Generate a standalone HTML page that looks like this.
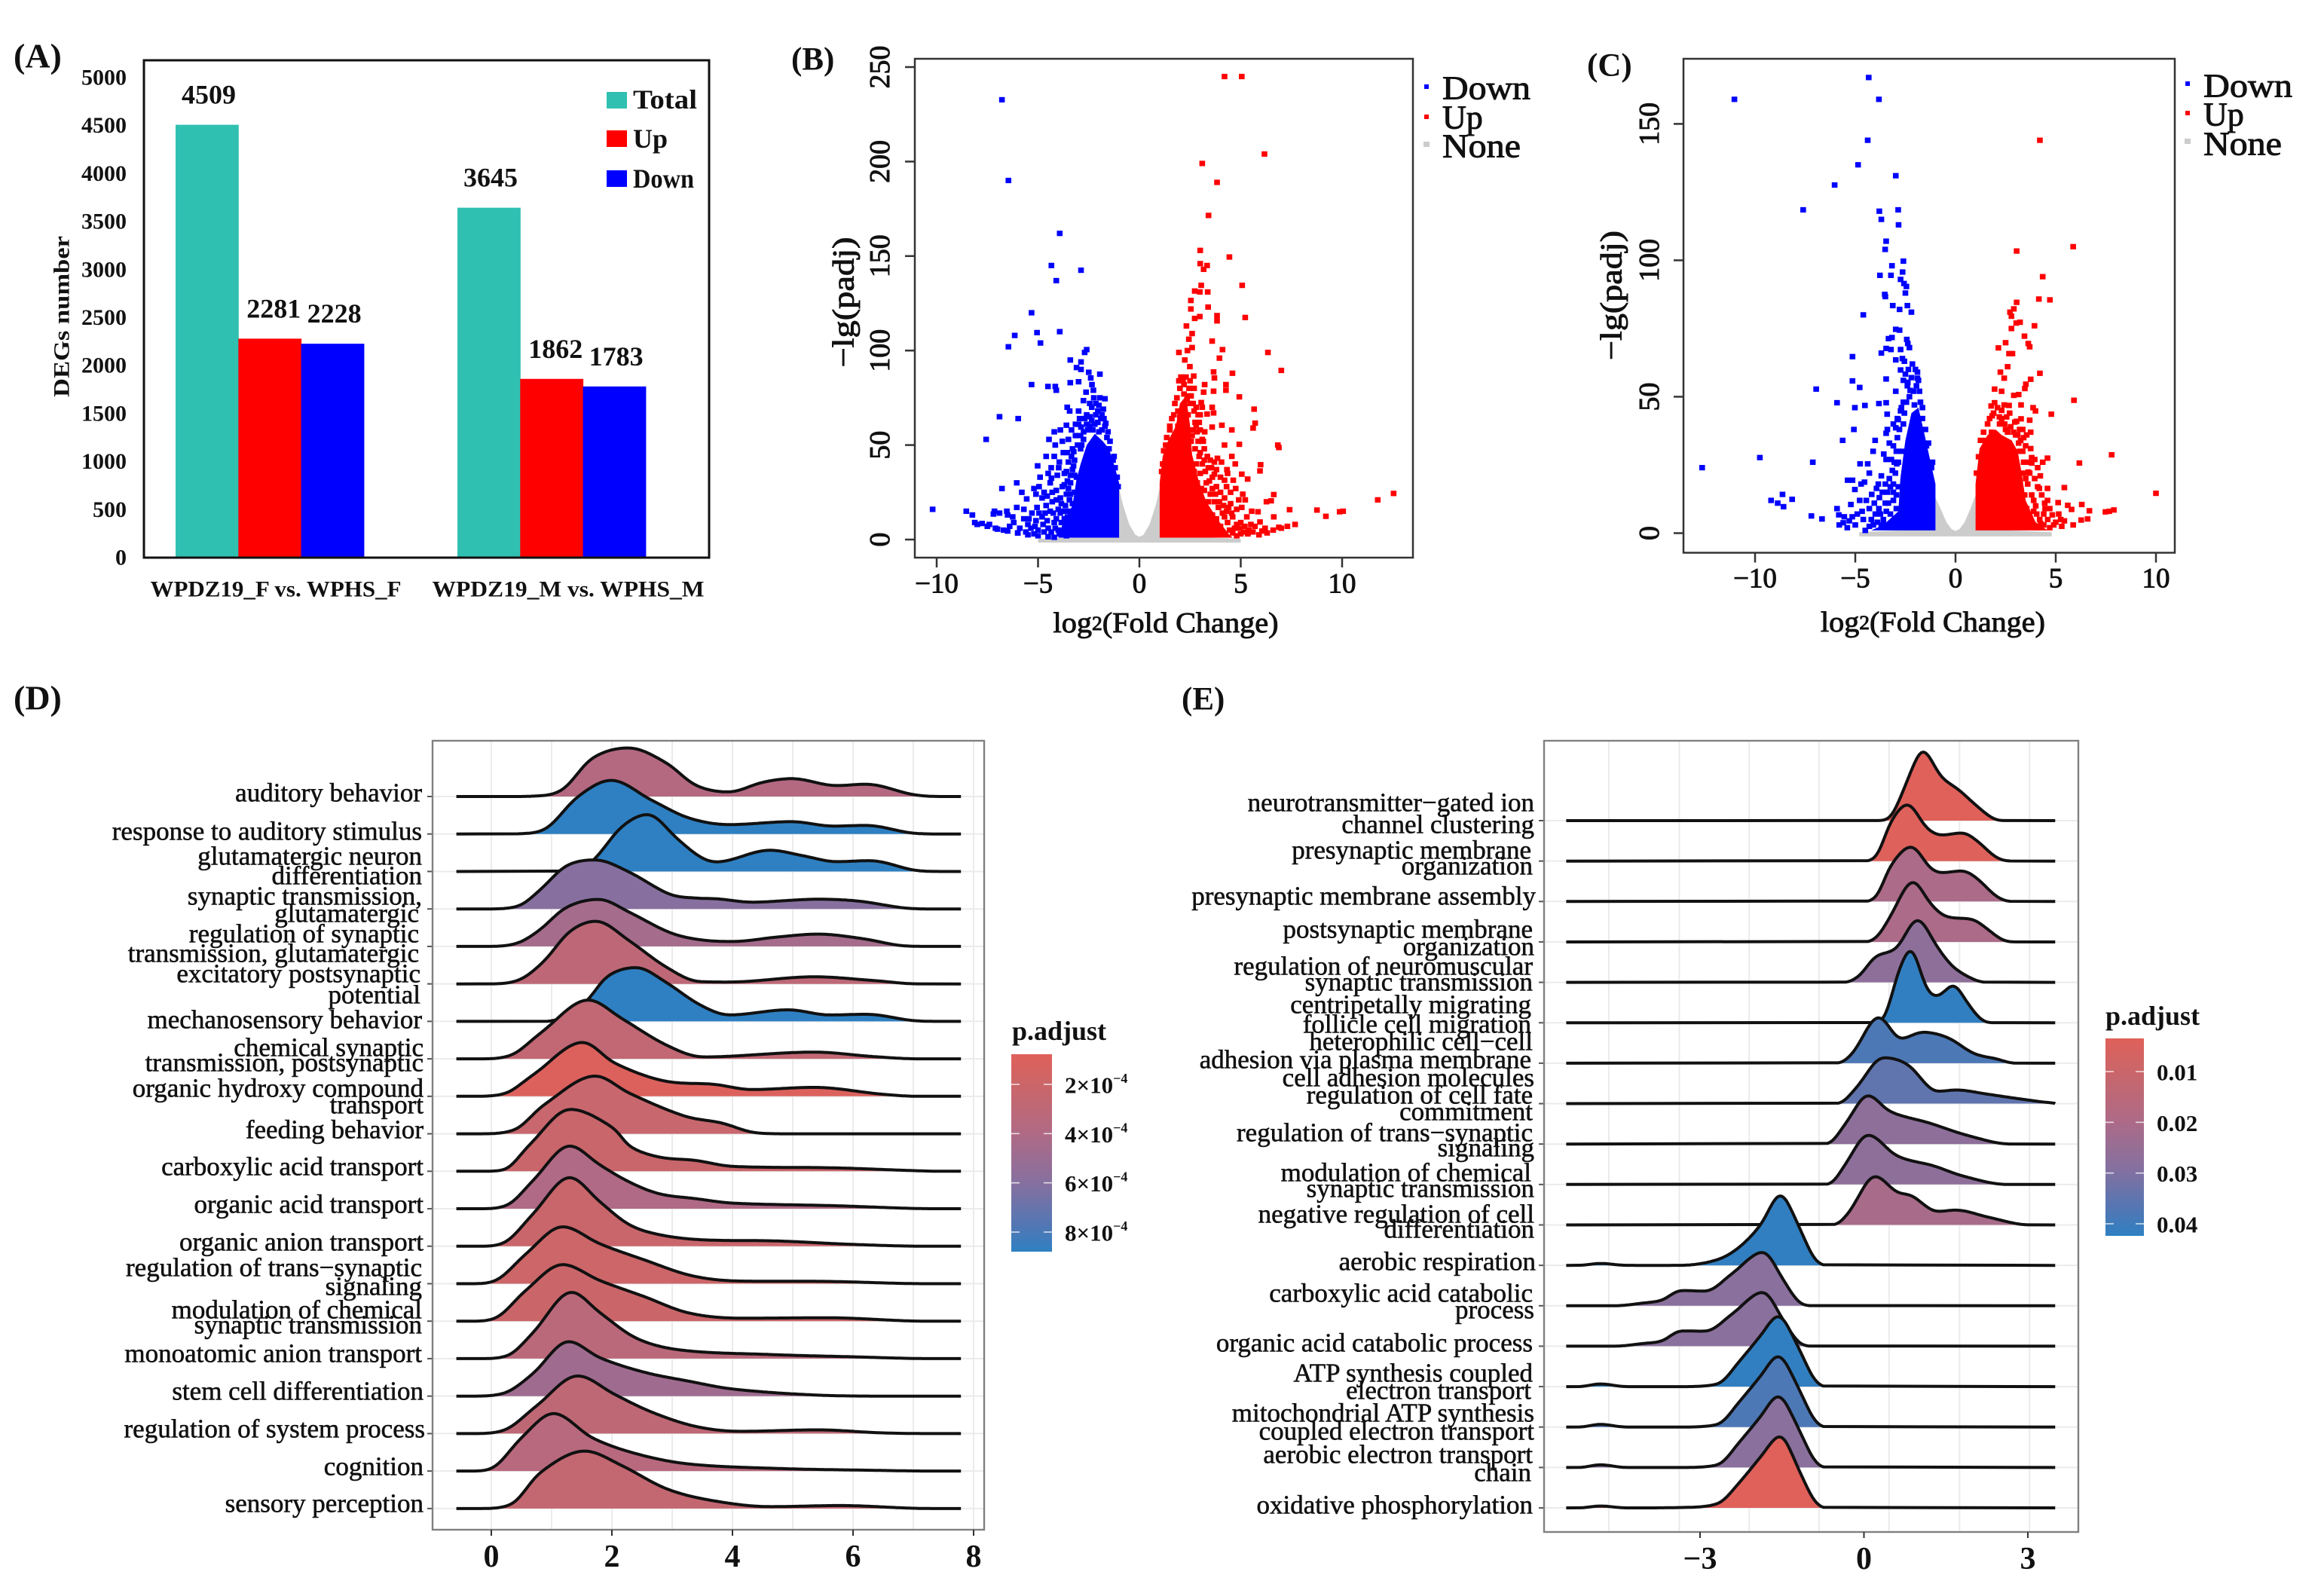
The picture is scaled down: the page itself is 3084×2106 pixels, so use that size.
<!DOCTYPE html>
<html lang="en">
<head>
<meta charset="utf-8">
<title>DEG bar chart, volcano plots and GSEA ridge plots</title>
<style>
html,body{margin:0;padding:0;background:#fff;}
svg{display:block;}
text{font-family:"Liberation Serif",serif;fill:#111;dominant-baseline:central;}
.b{font-weight:700;}
.m{font-weight:400;stroke:#111;stroke-width:.95px;}
.cat{font-size:35px;font-weight:400;stroke:#111;stroke-width:.6px;text-anchor:end;}
</style>
</head>
<body>
<svg id="figure" xmlns="http://www.w3.org/2000/svg" width="3084" height="2106" viewBox="0 0 3084 2106">
<defs>
<linearGradient id="padjGrad" x1="0" y1="0" x2="0" y2="1">
<stop offset="0" stop-color="#E0605A"/>
<stop offset=".15" stop-color="#CC6668"/>
<stop offset=".4" stop-color="#B06A85"/>
<stop offset=".65" stop-color="#87709F"/>
<stop offset=".88" stop-color="#4F77B5"/>
<stop offset="1" stop-color="#2E80C2"/>
</linearGradient>
</defs>
<rect x="0" y="0" width="3084" height="2106" fill="#fff"/>

<text class="b" x="18" y="74" font-size="46">(A)</text>
<text class="b" x="1050" y="79" font-size="43">(B)</text>
<text class="b" x="2106" y="87" font-size="43">(C)</text>
<text class="b" x="18" y="926" font-size="46">(D)</text>
<text class="b" x="1568" y="928" font-size="43">(E)</text>

<g id="panelA"></g>
<text class="b" font-size="30" text-anchor="middle" textLength="214" lengthAdjust="spacingAndGlyphs" transform="translate(82 420) rotate(-90)">DEGs number</text>
<g>
<rect x="805" y="122" width="27" height="22" fill="#30C0B2"/>
<text class="b" x="840" y="132" font-size="36" textLength="85" lengthAdjust="spacingAndGlyphs">Total</text>
<rect x="805" y="173" width="27" height="22" fill="#FF0000"/>
<text class="b" x="840" y="184" font-size="36">Up</text>
<rect x="805" y="226" width="27" height="22" fill="#0000FF"/>
<text class="b" x="840" y="237" font-size="36" textLength="81" lengthAdjust="spacingAndGlyphs">Down</text>
</g>

<g id="panelB"></g>
<text class="m" font-size="40" text-anchor="middle" textLength="173" lengthAdjust="spacingAndGlyphs" transform="translate(1119 401) rotate(-90)">−lg(padj)</text>
<text class="m" font-size="38" text-anchor="middle" x="1547" y="827" textLength="299" lengthAdjust="spacingAndGlyphs">log<tspan font-size="26">2</tspan>(Fold Change)</text>
<g>
<rect x="1890" y="112" width="6" height="6" fill="#0000FF"/>
<text class="m" x="1914" y="117" font-size="44" textLength="117" lengthAdjust="spacingAndGlyphs">Down</text>
<rect x="1890" y="152" width="6" height="6" fill="#FF0000"/>
<text class="m" x="1914" y="156" font-size="44">Up</text>
<rect x="1889" y="188" width="8" height="7" fill="#CCCCCC"/>
<text class="m" x="1914" y="194" font-size="44" textLength="104" lengthAdjust="spacingAndGlyphs">None</text>
</g>

<g id="panelC"></g>
<text class="m" font-size="40" text-anchor="middle" textLength="172" lengthAdjust="spacingAndGlyphs" transform="translate(2138 392) rotate(-90)">−lg(padj)</text>
<text class="m" font-size="38" text-anchor="middle" x="2565" y="826" textLength="298" lengthAdjust="spacingAndGlyphs">log<tspan font-size="26">2</tspan>(Fold Change)</text>
<g>
<rect x="2900" y="108" width="6" height="6" fill="#0000FF"/>
<text class="m" x="2924" y="114" font-size="44" textLength="118" lengthAdjust="spacingAndGlyphs">Down</text>
<rect x="2900" y="147" width="6" height="6" fill="#FF0000"/>
<text class="m" x="2924" y="152" font-size="44">Up</text>
<rect x="2899" y="184" width="8" height="7" fill="#CCCCCC"/>
<text class="m" x="2924" y="191" font-size="44" textLength="104" lengthAdjust="spacingAndGlyphs">None</text>
</g>

<g id="panelD"></g>
<g transform="translate(0 -2)">
<text class="cat" x="560" y="1054">auditory behavior</text>
<text class="cat" x="560" y="1105">response to auditory stimulus</text>
<text class="cat" x="560" y="1138">glutamatergic neuron</text>
<text class="cat" x="560" y="1164">differentiation</text>
<text class="cat" x="560" y="1191">synaptic transmission,</text>
<text class="cat" x="556" y="1214">glutamatergic</text>
<text class="cat" x="556" y="1241">regulation of synaptic</text>
<text class="cat" x="556" y="1267">transmission, glutamatergic</text>
<text class="cat" x="558" y="1294">excitatory postsynaptic</text>
<text class="cat" x="558" y="1322">potential</text>
<text class="cat" x="560" y="1355">mechanosensory behavior</text>
<text class="cat" x="562" y="1392">chemical synaptic</text>
<text class="cat" x="562" y="1412">transmission, postsynaptic</text>
<text class="cat" x="562" y="1446">organic hydroxy compound</text>
<text class="cat" x="562" y="1468">transport</text>
<text class="cat" x="562" y="1501">feeding behavior</text>
<text class="cat" x="562" y="1550">carboxylic acid transport</text>
<text class="cat" x="562" y="1600">organic acid transport</text>
<text class="cat" x="562" y="1650">organic anion transport</text>
<text class="cat" x="560" y="1684">regulation of trans−synaptic</text>
<text class="cat" x="560" y="1709">signaling</text>
<text class="cat" x="560" y="1740">modulation of chemical</text>
<text class="cat" x="560" y="1760">synaptic transmission</text>
<text class="cat" x="560" y="1798">monoatomic anion transport</text>
<text class="cat" x="562" y="1848">stem cell differentiation</text>
<text class="cat" x="564" y="1898">regulation of system process</text>
<text class="cat" x="562" y="1948">cognition</text>
<text class="cat" x="562" y="1997">sensory perception</text>
</g>
<text class="b" x="1343" y="1368" font-size="36">p.adjust</text>

<g id="panelE"></g>
<g transform="translate(0 -2)">
<text class="cat" x="2036" y="1067">neurotransmitter−gated ion</text>
<text class="cat" x="2036" y="1096">channel clustering</text>
<text class="cat" x="2032" y="1130">presynaptic membrane</text>
<text class="cat" x="2034" y="1151">organization</text>
<text class="cat" x="2038" y="1191">presynaptic membrane assembly</text>
<text class="cat" x="2034" y="1235">postsynaptic membrane</text>
<text class="cat" x="2036" y="1258">organization</text>
<text class="cat" x="2034" y="1284">regulation of neuromuscular</text>
<text class="cat" x="2034" y="1305">synaptic transmission</text>
<text class="cat" x="2032" y="1335">centripetally migrating</text>
<text class="cat" x="2032" y="1361">follicle cell migration</text>
<text class="cat" x="2034" y="1384">heterophilic cell−cell</text>
<text class="cat" x="2032" y="1408">adhesion via plasma membrane</text>
<text class="cat" x="2036" y="1432">cell adhesion molecules</text>
<text class="cat" x="2034" y="1455">regulation of cell fate</text>
<text class="cat" x="2034" y="1477">commitment</text>
<text class="cat" x="2034" y="1505">regulation of trans−synaptic</text>
<text class="cat" x="2036" y="1525">signaling</text>
<text class="cat" x="2032" y="1558">modulation of chemical</text>
<text class="cat" x="2036" y="1579">synaptic transmission</text>
<text class="cat" x="2036" y="1613">negative regulation of cell</text>
<text class="cat" x="2036" y="1633">differentiation</text>
<text class="cat" x="2038" y="1676">aerobic respiration</text>
<text class="cat" x="2034" y="1718">carboxylic acid catabolic</text>
<text class="cat" x="2036" y="1740">process</text>
<text class="cat" x="2034" y="1784">organic acid catabolic process</text>
<text class="cat" x="2034" y="1824">ATP synthesis coupled</text>
<text class="cat" x="2032" y="1847">electron transport</text>
<text class="cat" x="2036" y="1877">mitochondrial ATP synthesis</text>
<text class="cat" x="2036" y="1901">coupled electron transport</text>
<text class="cat" x="2034" y="1932">aerobic electron transport</text>
<text class="cat" x="2032" y="1956">chain</text>
<text class="cat" x="2034" y="1999">oxidative phosphorylation</text>
</g>
<text class="b" x="2794" y="1348" font-size="36">p.adjust</text>
</svg>

<script>
// ---------- Panel A data ----------
const aGroups = ['WPDZ19_F vs. WPHS_F', 'WPDZ19_M vs. WPHS_M'];
const aTotal = [4509, 3645];
const aUp = [2281, 1862];
const aDown = [2228, 1783];
const aYTicks = [0, 500, 1000, 1500, 2000, 2500, 3000, 3500, 4000, 4500, 5000];

// ---------- Panel B data ----------
const bXTicks = [-10, -5, 0, 5, 10];
const bYTicks = [0, 50, 100, 150, 200, 250];
const bNoneOutline = [[-5,-1.6],[5,-1.6],[5,0.4],[1,2],[1,27],[0.8,18],[0.5,8],[0.2,2.5],[0,1.5],[-0.2,2.5],[-0.5,8],[-0.8,18],[-1,27],[-1,2],[-5,0.4]];
const bDownCore = [[-1,1],[-1,30],[-1.2,38],[-1.5,48],[-1.8,52],[-2.2,56],[-2.6,50],[-2.9,40],[-3.1,32],[-3.3,18],[-3.8,8],[-4,1]];
const bUpCore = [[1,1],[1,30],[1.15,44],[1.4,52],[1.8,60],[2,72],[2.3,76],[2.5,60],[2.6,45],[2.9,32],[3.3,20],[3.9,10],[4.4,3],[4.6,1]];
const bDown = [[-6.78,232.7],[-6.46,190],[-3.93,162],[-4.34,145],[-2.88,142.5],[-4.1,137],[-5.32,120],[-5.05,109.5],[-6.15,108],[-3.93,110],[-6.46,102],[-4.88,104],[-5.32,82],[-4.51,81],[-4.15,81],[-4.1,79],[-3.41,95],[-2.6,100.5],[-2.7,99],[-2.88,94],[-3.1,91],[-2.88,90],[-2.5,88.5],[-1.95,87.5],[-2.4,85.5],[-3.41,83],[-3,83.5],[-2.34,82],[-2.63,78],[-2.27,79],[-2.76,73.5],[-1.7,74.5],[-2,71],[-1.78,69],[-3.56,70],[-3.44,68],[-3,68],[-6.9,65],[-5.98,64],[-7.56,53],[-2.44,65],[-1.66,61.5],[-3.6,60.5],[-2.88,59.5],[-4.2,57],[-3.5,53],[-2.76,53],[-4.46,53],[-4.6,44],[-4.2,44],[-3.24,46.5],[-5.02,39],[-3.98,38],[-4.34,32.5],[-3.6,36],[-6.05,30],[-6.78,27],[-5.8,25],[-4.95,28],[-4.7,25],[-5.56,21.5],[-6.05,17],[-6.54,15],[-7.15,15],[-8.54,15],[-8.24,13],[-8.12,9],[-10.2,16],[-7.76,8.5],
[-2.6,44],[-2.9,48],[-3.2,42],[-3.3,37],[-3.5,41],[-3.7,35],[-3.4,30],[-3.8,28],[-3.6,24],[-3.9,22],[-4.1,26],[-4.3,20],[-4.4,15],[-4.6,18],[-4.8,12],[-5.1,10],[-5.3,14],[-5.5,8],[-5.7,11],[-5.9,6],[-6.2,9],[-6.4,7],[-6.7,5],[-7.1,6],[-7.4,8],[-3.2,25],[-3.3,19],[-3.5,15],[-3.7,11],[-3.9,14],[-4.2,9],[-4,5],[-4.5,6],[-4.7,4],[-5,5],[-5.2,3],[-5.6,4],[-6,3.5],[-3.2,8],[-3.4,4],[-3.6,2],[-3,12],[-3.1,33],[-2.9,55],[-3,61],[-2.7,64],[-2.55,58],[-2.35,70],[-2.15,66],[-1.9,64],[-1.85,58],[-1.6,54],[-1.5,48],[-1.3,42],[-1.2,38],[-4.05,34],[-4.4,30],[-4.8,22],[-5.05,17],[-4.55,23],[-3.75,46],[-3.95,41],[-4.15,50],[-5.2,27],[-5.7,16],[-6.25,12],[-6.5,13],[-6.9,14],[-7.2,13.5],[-8,8],[-7.5,7],[-7,5.5],[-6.5,4.5],[-6,3.5],[-5.5,2.5],[-5,2],[-4.5,1.5],[-4.2,1.2],
[-1.25,44],[-1.45,52],[-1.55,57],[-1.7,60],[-1.85,66],[-2.05,62],[-2.2,61],[-2.35,63],[-2.45,60],[-2.6,61],[-2.75,57],[-2.85,50],[-3.05,50],[-3.15,55],[-3.3,48],[-3.35,44],[-3.55,46],[-3.25,39],[-3.4,34],[-3.55,31],[-3.2,34],[-3.5,27],[-3.7,29],[-3.4,24],[-3.65,18],[-3.45,21],[-3.85,19],[-3.75,15],[-3.55,12],[-3.35,10],[-3.85,9],[-4.1,11],[-4,16],[-4.25,14],[-4.15,6],[-4.35,4],[-3.95,3],[-4.55,10],[-4.75,8],[-4.95,14],[-4.65,14],[-5.15,7],[-5.35,6],[-5.45,11],[-2.15,72],[-2.45,72],[-1.95,75],[-2.05,68],[-2.25,75],[-1.75,64],[-1.45,43],[-1.1,33],[-1.05,28],[-2,57],[-2.3,58],[-2.6,66],[-2.95,64],[-3.15,61],[-3.35,58],[-3.8,52],[-3.9,58],[-4.35,38],[-4.5,35],[-4.1,21],[-4.3,25],[-4.9,33],[-5.1,24]];
const bUp = [[4.2,245],[5.05,245],[6.17,204],[3.1,199],[3.83,189],[3.41,171.5],[3,153],[4.44,149.5],[3,146],[3.34,145],[3.17,143],[5.07,134.5],[3.05,134.5],[2.73,131.5],[3.37,131],[2.98,131],[2.54,126.5],[2.54,122],[3.39,123],[5.22,117.5],[3.83,118.5],[3.83,115.7],[2.98,118],[2.73,117],[2.32,113],[2.6,109],[2.44,106],[3.59,105],[2.6,101.6],[2.37,100],[1.95,99],[4.1,100.5],[6.34,99],[3.95,96],[2.24,95],[2.49,91.5],[7,89.5],[3.66,88.7],[4.59,88],[3.7,85.5],[2.68,86.5],[4.27,82],[3.22,82],[4.27,79],[3.66,78.5],[3.17,78],[4.93,75.5],[3.05,72.5],[3.59,70],[5.66,69],[3.66,67],[3.34,66.4],[3,66],[5.71,61.6],[5.61,59],[4.07,60.5],[4.56,58],[3.59,59.5],[3.22,57],[3.1,53],[4.93,50.4],[4.2,50],[6.83,50],[6.88,48.7],[4.56,44],[3.7,41],[4.73,40],[5.98,39.6],[5.95,36.3],[4.32,37],[5.05,34.6],[5.34,32],[4.63,31.4],[4.2,31.4],[3.7,34.6],[6.63,23.8],[12.54,24.4],[11.76,21],[10.05,15],[9.88,14.7],[9.2,12.3],[8.76,15.6],[7.41,15.8],[7.68,8],[6.27,20],[6.5,20.5],[5.22,21],[5.54,15],[5.85,14.7],[5.95,9.3],[6.63,12],[6.88,6.5],
[2.8,40],[3,46],[3.2,42],[3.4,38],[3,35],[3.3,30],[3.6,33],[3.8,28],[3.5,24],[3.7,20],[4,25],[4.2,22],[4.4,17],[4.1,14],[3.9,17],[4.6,12],[4.8,16],[5,9],[5.2,7],[4.7,6],[5.4,5],[3.4,14],[3.2,26],[2.6,55],[2.8,60],[2.4,66],[2.7,68],[2.5,72],[3,58],[3.2,48],[3.5,42],[2.9,52],[2.2,82],[2,80],[1.9,68],[1.7,66],[1.5,58],[1.3,50],[1.15,40],[2.5,84],[2.7,80],[2.35,74],[3.8,37],[4,33],[4.3,28],[4.5,25],[3.1,20],[4.5,19],[4.9,21],[5.05,17],[5.3,12],[5.6,4],[5.9,2.5],[6.3,3.5],[6.6,5],[7,6],[7.3,7],[5,3],[4.8,2],
[1.1,36],[1.2,47],[1.35,54],[1.5,60],[1.6,64],[1.75,72],[1.85,75],[1.95,84],[2.05,86],[2.15,84],[2.3,86],[2.45,80],[2.55,76],[2.65,72],[2.8,70],[2.9,66],[2.75,62],[2.85,57],[2.65,58],[2.55,52],[2.75,48],[2.95,44],[3.1,40],[2.7,36],[2.85,30],[3.05,27],[3.25,36],[3.45,31],[3.6,27],[3.75,24],[3.2,16],[3.4,20],[3.6,13],[3.8,11],[4,7],[4.2,12],[4.35,9],[4.45,5],[4.6,3.5],[4.8,8],[4.95,6],[5.15,4],[5.35,3],[4.15,18],[4.3,15],[4.55,14],[3.95,20],[3.55,38],[3.35,44],[3.15,52],[2.95,62],[3.1,70],[2.4,76],[2.2,77],[1.9,60],[2,65],[3.85,43],[4.05,41],[4.35,35],[4.75,27],[5.1,24],[5.5,8],[5.7,7],[6.05,4.5],[6.2,6]];

// ---------- Panel C data ----------
const cXTicks = [-10, -5, 0, 5, 10];
const cYTicks = [0, 50, 100, 150];
const cNoneOutline = [[-4.8,-1.2],[4.8,-1.2],[4.8,0.4],[1,1.5],[1,14],[0.75,9],[0.45,4],[0.2,1.5],[0,0.8],[-0.2,1.5],[-0.45,4],[-0.75,9],[-1,13],[-1,1.5],[-4.8,0.4]];
const cDownCore = [[-1,1],[-1,18],[-1.3,28],[-1.6,38],[-1.85,46],[-2.2,44],[-2.5,34],[-2.75,20],[-2.85,8],[-3.6,3],[-4.2,1]];
const cUpCore = [[1,1],[1,18],[1.2,31],[1.6,36],[2,38],[2.3,36],[2.8,34],[3.1,30],[3.3,22],[3.5,12],[4,4],[4.6,1]];
const cDown = [[-4.33,167],[-11.03,159],[-3.82,159],[-4.38,144],[-4.86,135],[-2.98,131],[-6.03,127.6],[-7.6,118.5],[-2.86,118.5],[-3.8,118],[-3.7,115],[-2.84,113],[-3.46,107],[-3.51,104],[-2.6,99.7],[-3.17,98],[-2.64,95.7],[-3.77,94.5],[-3.22,94.5],[-2.74,93],[-2.57,91.5],[-2.45,90.4],[-2.5,88],[-3.53,87.5],[-3.5,86.7],[-2.4,83.4],[-3.13,83.4],[-2.79,82],[-2.2,81],[-4.6,80],[-2.98,74.7],[-2.79,74.4],[-3.17,71.7],[-3.34,71.3],[-2.43,71],[-2.38,69.5],[-3.46,67.7],[-3.7,66],[-3.22,67.3],[-2.74,67.3],[-2.3,68],[-5.14,64.7],[-2.98,63.5],[-2.55,63],[-2.74,59.8],[-1.9,59],[-2.5,58.3],[-3.46,56.5],[-5.14,55.8],[-1.9,56.8],[-2.38,55.3],[-4.78,53.4],[-6.95,52.8],[-2.98,52],[-2.26,52.3],[-5.91,47.8],[-4.52,46.8],[-5.02,46],[-3.82,47.5],[-3.46,47.8],[-2.74,44.8],[-3.41,43.6],[-2.86,41.6],[-5.07,38],[-2.98,38.6],[-3.46,36.6],[-4.01,34],[-5.63,34],[-4.11,30],[-9.76,27.7],[-3.58,29],[-7.12,26],[-4.76,25.4],[-4.38,25.4],[-12.64,24],[-3.46,27],[-2.93,25.4],[-4.3,22],[-3.7,21],[-5.38,19.4],[-5.14,19.4],[-4.54,18.7],[-4.71,18],[-5.02,16],[-3.94,16.4],[-4.18,14.2],[-3.1,18],[-3.1,15],[-8.15,12.4],[-8.63,14.2],[-9.2,12],[-8.87,11],[-8.58,9.7],[-7.19,6.3],[-6.66,5.2],[-5.91,9],[-5.82,6.7],[-5.22,10.5],[-4.78,12],[-4.66,8],[-3.82,9],[-4.3,9],
[-2.7,30],[-2.9,35],[-3.1,32],[-3.2,27],[-3,22],[-3.3,20],[-3.4,15],[-3.1,12],[-2.95,9],[-3.25,7],[-3.5,11],[-3.6,5],[-3.8,13],[-4,7],[-4.2,5],[-4.3,2.5],[-3.7,3],[-3,3],[-2.9,42],[-2.6,48],[-2.4,54],[-2.2,57],[-2.05,47],[-1.75,48],[-1.65,42],[-2,60],[-2.6,40],[-1.45,32],[-1.2,24],[-4.5,1],[-5,3],[-5.4,2],[-5.6,3.8],[-5.8,3],[-4.9,7],[-5.3,4.5],
[-1.15,26],[-1.35,33],[-1.5,38],[-1.65,46],[-1.8,52],[-1.95,54],[-2.1,52],[-2.3,50],[-2.45,48],[-2.55,44],[-2.7,46],[-2.8,38],[-2.95,30],[-3.05,26],[-2.85,26],[-3.15,23],[-3.25,17],[-2.85,17],[-2.95,14],[-3.35,11],[-3.45,8],[-3.15,4],[-3.55,3],[-3.75,7],[-3.9,4],[-3.85,18],[-4.05,11],[-4.1,3],[-3.5,18],[-3.65,15],[-2.35,60],[-2.6,56],[-2.15,62],[-1.85,56],[-2.65,64],[-3.3,33],[-3.4,38],[-3.1,40],[-4.45,12],[-4.6,5],[-5.15,6],[-5.55,6]];
const cUp = [[4.21,144],[5.87,105],[3.05,103.4],[4.35,94],[4.71,85.5],[4.16,85.8],[3.05,84.6],[2.91,82.2],[2.72,81],[2.79,79.5],[3.22,77.3],[3.03,77],[2.79,75],[3.94,76],[3.44,72.2],[2.5,69.8],[2.14,67.9],[3.63,69.5],[3.7,68.3],[2.67,65.8],[2.84,65.8],[2.6,61],[2.24,59],[4.21,58.6],[3.75,56.4],[3.51,54.6],[3.46,53],[2.43,56.8],[1.95,52.8],[2.3,52],[2.91,50.5],[3.15,50.8],[5.91,48.7],[1.78,46.6],[1.95,47.8],[2.43,47],[2.67,46.8],[3.27,47],[3.87,46],[3.99,44.8],[4.78,43.6],[1.83,43],[2.19,42.6],[2.55,42.6],[3.27,41.9],[2.96,40.7],[3.7,41.4],[3.75,37],[7.79,28.7],[6.18,25.7],[4.59,27.5],[4.35,26],[3.8,27.7],[3.8,25.7],[3.63,22.4],[4.23,21],[10,14.6],[5.43,16.7],[4.59,16.4],[4.18,16.4],[5.12,11.2],[4.59,12],[5.6,10.2],[6.3,10.5],[6.68,8.2],[5.79,8.7],[7.48,7.8],[7.9,8.5],[7.67,8],[6.27,4.8],[6.59,5.2],[4.47,9],[4.83,6.7],[5.43,4.5],[5.87,3],
[3.2,30],[3.4,26],[3.6,18],[3.8,14],[3.9,8],[4.2,5],[4.4,3],[4.7,2],[3.5,32],[3.4,35],[3.15,33],[3,36],[2.5,38],[2.2,40],[1.8,37],[1.5,34],[4.1,17],[3.9,12],[3.7,22],[4,10],[4.4,7],[4.7,9],[5,4],[5.3,2.5],[2.7,44],[2.3,45],[3.05,41],
[1.05,22],[1.15,28],[1.25,34],[1.4,37],[1.6,40],[1.7,42],[1.9,44],[2.1,46],[2.3,42],[2.45,40],[2.6,37],[2.75,39],[2.9,37],[3.1,36],[3.25,34],[3.35,30],[3.4,22],[3.5,20],[3.6,26],[3.45,14],[3.55,9],[3.7,6],[3.85,3],[4.05,7],[4.1,2],[3.2,38],[3.35,38],[3.55,36],[3.75,31],[3.95,27],[4.1,24],[3.95,20],[4.3,14],[4.45,11],[4.25,3.5],[4.6,5],[4.9,3],[5.15,7],[5.25,5]];

// ---------- Panel D data ----------
const dCategories = ['auditory-behavior','response-to-auditory-stimulus','glutamatergic-neuron-differentiation','synaptic-transmission-glutamatergic','regulation-of-synaptic-transmission','excitatory-postsynaptic-potential','mechanosensory-behavior','chemical-synaptic-transmission','organic-hydroxy-compound-transport','feeding-behavior','carboxylic-acid-transport','organic-acid-transport','organic-anion-transport','regulation-of-trans-synaptic-signaling','modulation-of-chemical-synaptic-transmission','monoatomic-anion-transport','stem-cell-differentiation','regulation-of-system-process','cognition','sensory-perception'];
const dPadjust = [3.7e-4,8.8e-4,8.8e-4,6e-4,4.5e-4,3e-4,8.8e-4,2.8e-4,1e-4,2.3e-4,2.2e-4,4e-4,2.2e-4,2e-4,2.1e-4,3.3e-4,4.8e-4,2.9e-4,3.4e-4,2.6e-4];
const dXTicks = [0, 2, 4, 6, 8];
const dGrid = [0, 1, 2, 3, 4, 5, 6, 7, 8];
const dRidgeX = [
[0.4,0.69,1.18,1.67,2.28,2.9,3.39,3.94,4.5,4.99,5.72,6.22,7,7.45],
[0.44,0.87,1.43,1.99,2.65,3.27,3.94,4.99,5.66,6.22,7.01,7.45],
[1.43,1.73,2.16,2.6,3.08,3.45,3.72,4.62,5.17,5.72,6.28,7.08,7.45],
[-0.05,0.44,0.81,1.24,1.73,2.28,2.96,3.39,3.76,4.31,5.42,6.09,6.89,7.3],
[-0.05,0.44,0.81,1.24,1.79,2.28,2.96,3.45,4,4.74,5.42,6.15,6.89,7.3],
[-0.05,0.44,0.87,1.3,1.74,2.28,2.9,3.45,3.94,5.36,6.34,7.08],
[0.93,1.55,1.92,2.41,2.9,3.45,3.94,4.93,5.6,6.22,7,7.4],
[-0.17,0.32,0.81,1.61,2.16,2.9,3.51,5.36,6.34,7.08],
[-0.29,0.2,0.69,1.52,2.04,2.9,3.7,4.31,5.36,6.46,7.08],
[-0.17,0.38,0.87,1.73,2.28,3.21,3.82,4.37,4.86],
[-0.17,0.2,0.63,1.3,2.04,2.28,2.78,3.39,4,5.72,6.95,7.45],
[-0.17,0.26,0.69,1.3,1.79,2.28,2.78,3.39,4,5.72,6.95,7.45],
[-0.17,0.2,0.69,1.3,1.79,2.28,2.78,3.51,4.74,5.97,7.2],
[-0.29,0.07,0.57,1.18,1.79,2.53,3.33,4.13,5.6,7.2],
[-0.29,0.07,0.57,1.18,1.79,2.53,3.27,4.13,5.6,7.2],
[-0.17,0.26,0.69,1.33,1.79,2.41,3.14,4.62,5.97,7.33],
[-0.29,0.2,0.69,1.28,1.79,2.53,3.27,4,5.36,6.59],
[-0.29,0.2,0.75,1.43,2.04,2.65,3.39,4.13,5.42,6.46,7.33],
[-0.29,0.01,0.5,1.03,1.67,2.41,3.27,4.74,6.34,7.33],
[-0.17,0.32,0.81,1.55,2.16,2.9,3.64,4.62,5.79,6.95,7.33]];
const dRidgeH = [
[0,0.01,0.18,1.02,1.3,0.9,0.3,0.12,0.38,0.48,0.29,0.33,0.05,0],
[0.01,0.11,0.99,1.44,0.91,0.43,0.25,0.33,0.21,0.23,0.02,0],
[0,0.36,1.19,1.53,0.88,0.4,0.25,0.57,0.42,0.26,0.29,0.02,0],
[0,0.07,0.51,1.15,1.31,0.99,0.39,0.29,0.27,0.18,0.26,0.21,0.02,0],
[0,0.09,0.45,1.04,1.26,0.92,0.37,0.18,0.13,0.25,0.33,0.21,0.01,0],
[0,0.09,0.6,1.4,1.68,1.16,0.45,0.06,0.05,0.19,0.09,0],
[0,0.49,1.2,1.44,1.04,0.45,0.17,0.31,0.17,0.19,0.02,0],
[0,0.09,0.68,1.58,1.08,0.37,0.05,0.18,0.06,0],
[0,0.06,0.57,1.45,0.89,0.4,0.32,0.18,0.24,0.06,0],
[0,0.1,0.77,1.55,1.09,0.47,0.29,0.03,0],
[0,0.03,0.7,1.66,1.14,0.68,0.38,0.29,0.13,0.09,0.02,0],
[0,0.09,0.75,1.69,1.18,0.72,0.4,0.27,0.15,0.08,0.01,0],
[0,0.08,0.86,1.85,1.2,0.58,0.31,0.17,0.14,0.05,0],
[0,0.08,0.79,1.53,1.07,0.64,0.21,0.07,0.06,0],
[0,0.08,0.82,1.52,1.09,0.66,0.22,0.08,0.09,0],
[0,0.07,0.69,1.79,1.24,0.54,0.23,0.11,0.05,0],
[0,0.07,0.6,1.47,1.03,0.64,0.4,0.19,0.03,0],
[0,0.08,0.74,1.55,1.05,0.58,0.19,0.06,0.1,0.02,0],
[0,0.07,0.89,1.55,0.89,0.46,0.19,0.07,0.02,0],
[0,0.1,0.96,1.54,1.15,0.53,0.22,0.05,0.08,0.01,0]];

// ---------- Panel E data ----------
const eCategories = ['neurotransmitter-gated-ion-channel-clustering','presynaptic-membrane-organization','presynaptic-membrane-assembly','postsynaptic-membrane-organization','regulation-of-neuromuscular-synaptic-transmission','centripetally-migrating-follicle-cell-migration','heterophilic-cell-cell-adhesion','regulation-of-cell-fate-commitment','regulation-of-trans-synaptic-signaling','modulation-of-chemical-synaptic-transmission','negative-regulation-of-cell-differentiation','aerobic-respiration','carboxylic-acid-catabolic-process','organic-acid-catabolic-process','atp-synthesis-coupled-electron-transport','mitochondrial-atp-synthesis','aerobic-electron-transport-chain','oxidative-phosphorylation'];
const ePadjust = [0.0036,0.004,0.02,0.02,0.027,0.042,0.038,0.035,0.027,0.027,0.021,0.042,0.028,0.028,0.042,0.038,0.028,0.0036];
const eXTicks = [-3, 0, 3];
const eGrid = [-4.67,-3.38,-2.1,-0.82,0.46,1.75,3.03];
const eRidgeX = [
[0.27,0.47,0.67,0.87,1.07,1.41,1.74,2.01,2.35,2.55],
[0.07,0.27,0.47,0.8,1.14,1.41,1.81,2.08,2.42,2.68],
[0.07,0.27,0.47,0.87,1.21,1.41,1.81,2.08,2.42,2.68],
[0.07,0.27,0.47,0.9,1.21,1.48,2.01,2.21,2.55,2.75],
[-0.34,-0.07,0.2,0.6,0.98,1.34,1.61,1.95,2.21],
[0.2,0.4,0.6,0.86,1.14,1.34,1.64,1.88,2.15,2.35],
[-0.47,-0.2,0.27,0.67,1.07,1.54,2.01,2.42,2.75],
[-0.47,-0.13,0.34,0.8,1.34,1.68,2.28,2.95,3.5],
[-0.67,-0.33,0.07,0.47,1.2,1.88,2.68],
[-0.67,-0.6,-0.34,0.07,0.6,1.28,1.81,2.62],
[-0.54,-0.27,0.2,0.6,0.87,1.34,1.68,2.28,3.02],
[-5.2,-4.83,-4.36,-3.36,-2.68,-2.28,-1.88,-1.53,-1.21,-0.94,-0.74],
[-4.56,-4.03,-3.69,-3.36,-2.89,-2.42,-1.84,-1.48,-1.21,-1],
[-4.56,-4.03,-3.69,-3.36,-2.89,-2.42,-1.84,-1.48,-1.21,-1],
[-5.2,-4.83,-4.36,-3.36,-2.68,-2.28,-1.88,-1.57,-1.21,-0.94,-0.74],
[-5.2,-4.83,-4.36,-3.36,-2.68,-2.28,-1.88,-1.57,-1.21,-0.94,-0.74],
[-5.2,-4.83,-4.36,-3.36,-2.68,-2.28,-1.88,-1.57,-1.21,-0.94,-0.74],
[-5.2,-4.83,-4.36,-3.36,-2.68,-2.28,-1.88,-1.53,-1.21,-0.94,-0.74]];
const eRidgeH = [
[0,0.06,0.58,1.25,1.76,1.09,0.76,0.43,0.06,0],
[0,0.2,0.92,1.42,0.83,0.64,0.7,0.49,0.09,0],
[0,0.2,0.85,1.37,0.83,0.71,0.76,0.56,0.13,0],
[0,0.17,0.6,1.51,0.96,0.64,0.55,0.37,0.04,0],
[0,0.18,0.63,0.85,1.57,0.88,0.41,0.11,0],
[0,0.18,1.14,1.85,0.85,0.65,0.95,0.52,0.07,0],
[0,0.26,1.16,0.6,0.77,0.63,0.24,0.11,0],
[0,0.41,1.14,0.97,0.3,0.34,0.23,0.1,0.02],
[0,0.52,1.22,0.81,0.52,0.22,0],
[0,0.02,0.5,1.24,0.71,0.46,0.21,0],
[0,0.32,1.22,0.81,0.73,0.33,0.37,0.19,0],
[0,0.05,0,0,0.14,0.45,1.02,1.77,1.02,0.23,0],
[0,0.07,0.14,0.38,0.36,0.79,1.34,0.65,0.11,0],
[0,0.07,0.13,0.38,0.37,0.79,1.35,0.65,0.11,0],
[0,0.07,0,0,0.06,0.63,1.28,1.77,1,0.24,0],
[0,0.07,0,0,0.06,0.63,1.28,1.78,1,0.24,0],
[0,0.07,0,0,0.06,0.63,1.28,1.79,1,0.24,0],
[0,0.05,0,0.01,0.1,0.63,1.28,1.8,1,0.24,0]];

// Legend tick values
const dLegendTicks = [2e-4, 4e-4, 6e-4, 8e-4];
const dLegendMantissa = ['2', '4', '6', '8'];
const eLegendTicks = [0.01, 0.02, 0.03, 0.04];
const eLegendLabels = ['0.01', '0.02', '0.03', '0.04'];

// ---------- helpers ----------
const NS = 'http://www.w3.org/2000/svg';
function make(tag, parent, props) {
  const n = document.createElementNS(NS, tag);
  for (const k in props) n.setAttribute(k, props[k]);
  parent.appendChild(n);
  return n;
}
function linear(d0, d1, r0, r1) {
  return v => r0 + (v - d0) * (r1 - r0) / (d1 - d0);
}
const gradStops = [[0,[224,96,90]],[.15,[204,102,104]],[.4,[176,106,133]],[.65,[135,112,159]],[.88,[79,119,181]],[1,[46,128,194]]];
function rampColor(t) {
  t = Math.max(0, Math.min(1, t));
  for (let i = 1; i < gradStops.length; i++) {
    if (t <= gradStops[i][0]) {
      const a = gradStops[i-1], b = gradStops[i];
      const f = (t - a[0]) / (b[0] - a[0]);
      const c = a[1].map((v, j) => Math.round(v + (b[1][j] - v) * f));
      return `rgb(${c[0]},${c[1]},${c[2]})`;
    }
  }
  return 'rgb(46,128,194)';
}
// smooth a ridge profile: limited Catmull-Rom interpolation, then a short moving average
function ridgeSamples(xs, hs) {
  const n = xs.length, m = [], d = [];
  for (let i = 0; i < n - 1; i++) d.push((hs[i+1] - hs[i]) / (xs[i+1] - xs[i]));
  m[0] = 0; m[n-1] = 0;
  for (let i = 1; i < n - 1; i++) {
    if (d[i-1] * d[i] <= 0) m[i] = 0;
    else {
      const cr = (hs[i+1] - hs[i-1]) / (xs[i+1] - xs[i-1]);
      const lim = 3 * Math.min(Math.abs(d[i-1]), Math.abs(d[i]));
      m[i] = Math.sign(cr) * Math.min(Math.abs(cr), lim);
    }
  }
  const step = 0.02, out = [];
  let seg = 0;
  for (let x = xs[0]; x <= xs[n-1] + 1e-9; x += step) {
    while (seg < n - 2 && x > xs[seg+1]) seg++;
    const h = xs[seg+1] - xs[seg], t = (x - xs[seg]) / h, t2 = t*t, t3 = t2*t;
    const v = (2*t3-3*t2+1)*hs[seg] + (t3-2*t2+t)*h*m[seg] + (-2*t3+3*t2)*hs[seg+1] + (t3-t2)*h*m[seg+1];
    out.push(Math.max(0, v));
  }
  let cur = out;
  for (let pass = 0; pass < 3; pass++) {
    const nx = cur.slice();
    for (let i = 0; i < cur.length; i++) {
      let sum = 0, c = 0;
      for (let j = -3; j <= 3; j++) {
        const q = cur[i + j];
        sum += q === undefined ? 0 : q;
        c++;
      }
      nx[i] = sum / c;
    }
    cur = nx;
  }
  return cur.map((v, i) => [xs[0] + i * step, v]);
}
function pathOf(points) {
  return 'M' + points.map(p => p[0].toFixed(1) + ' ' + p[1].toFixed(1)).join('L');
}

// ---------- Panel A ----------
(function () {
  const g = document.getElementById('panelA');
  const yA = linear(0, 5000, 740, 103);
  const bandX = (group, s) => 233 + 374 * group + 83.3 * s;
  const seriesList = [['total', aTotal, '#30C0B2'], ['up', aUp, '#FF0000'], ['down', aDown, '#0000FF']];
  seriesList.forEach((ser, s) => {
    ser[1].forEach((v, i) => {
      const r = make('rect', g, {x: bandX(i, s), y: yA(v), width: 83.8, height: yA(0) - yA(v), fill: ser[2]});
      
      
      const t = make('text', g, {x: bandX(i, s) + 44 + (s === 1 ? 3 : 0), y: yA(v) - 40, 'text-anchor': 'middle', 'font-size': 36, class: 'b'});
      t.textContent = v;
      
      
    });
  });
  const frame = make('rect', g, {x: 191, y: 80, width: 750, height: 660, fill: 'none', stroke: '#111', 'stroke-width': 3});
  
  
  aYTicks.forEach(v => {
    const t = make('text', g, {x: 168, y: yA(v), 'text-anchor': 'end', 'font-size': 30, class: 'b'});
    t.textContent = v;
    
    
  });
  const widths = [333, 361];
  const centers = [366, 754];
  aGroups.forEach((name, i) => {
    const t = make('text', g, {x: centers[i], y: 782, 'text-anchor': 'middle', 'font-size': 30, class: 'b', textLength: widths[i], lengthAdjust: 'spacingAndGlyphs'});
    t.textContent = name;
    
    
  });
})();

// ---------- Volcano panels ----------
function drawVolcano(gid, key, box, xs, ys, xTicks, yTicks, none, downCore, upCore, down, up, labelX, labelY) {
  const g = document.getElementById(gid);
  const outline = (pts, fill, name) => {
    const p = make('path', g, {d: pathOf(pts.map(q => [xs(q[0]), ys(q[1])])) + 'Z', fill: fill});
    
    
  };
  outline(none, '#CCCCCC', key + '-none-points-cloud');
  outline(downCore, '#0000FF', key + '-down-points-dense-core');
  outline(upCore, '#FF0000', key + '-up-points-dense-core');
  const dots = (pts, fill, name) => {
    pts.forEach(q => {
      const r = make('rect', g, {x: xs(q[0]) - 3.8, y: ys(q[1]) - 3.6, width: 7.6, height: 7.2, fill: fill});
      
      
    });
  };
  dots(down, '#0000FF', key + '-down-point');
  dots(up, '#FF0000', key + '-up-point');
  const frame = make('rect', g, {x: box[0], y: box[1], width: box[2] - box[0], height: box[3] - box[1], fill: 'none', stroke: '#333', 'stroke-width': 2.5});
  
  
  xTicks.forEach(v => {
    const l = make('line', g, {x1: xs(v), x2: xs(v), y1: box[3], y2: box[3] + 13, stroke: '#333', 'stroke-width': 2.5});
    
    
    const t = make('text', g, {x: xs(v), y: labelY, 'text-anchor': 'middle', 'font-size': 37, class: 'm'});
    t.textContent = String(v).replace('-', '−');
    
    
  });
  yTicks.forEach(v => {
    const l = make('line', g, {x1: box[0] - 13, x2: box[0], y1: ys(v), y2: ys(v), stroke: '#333', 'stroke-width': 2.5});
    
    
    const t = make('text', g, {'text-anchor': 'middle', 'font-size': 38, class: 'm', transform: `translate(${labelX} ${ys(v)}) rotate(-90)`});
    t.textContent = v;
    
    
  });
}
drawVolcano('panelB', 'b', [1214, 78, 1875, 740], linear(0, 10, 1512, 1781), linear(0, 250, 716, 89), bXTicks, bYTicks, bNoneOutline, bDownCore, bUpCore, bDown, bUp, 1168, 775);
drawVolcano('panelC', 'c', [2234, 78, 2886, 733.5], linear(0, 10, 2595, 2861), linear(0, 150, 707.5, 164.4), cXTicks, cYTicks, cNoneOutline, cDownCore, cUpCore, cDown, cUp, 2189, 768);

// ---------- Ridge panels ----------
function drawRidges(gid, key, cfg) {
  const g = document.getElementById(gid);
  const xs = cfg.xs;
  const base = i => cfg.base0 + cfg.rowStep * i;
  const panelBg = make('rect', g, {x: cfg.box[0], y: cfg.box[1], width: cfg.box[2] - cfg.box[0], height: cfg.box[3] - cfg.box[1], fill: '#fff'});
  
  
  cfg.grid.forEach(v => {
    const l = make('line', g, {x1: xs(v), x2: xs(v), y1: cfg.box[1], y2: cfg.box[3], stroke: '#EBEBEB', 'stroke-width': 2});
    
    
  });
  cfg.categories.forEach((c, i) => {
    const l = make('line', g, {x1: cfg.box[0], x2: cfg.box[2], y1: base(i), y2: base(i), stroke: '#EBEBEB', 'stroke-width': 2});
    
    
  });
  cfg.categories.forEach((c, i) => {
    const y0 = base(i);
    const sampled = ridgeSamples(cfg.rx[i], cfg.rh[i]).map(q => [xs(q[0]), y0 - q[1] * cfg.rowStep]);
    const fill = make('path', g, {d: pathOf(sampled.concat([[sampled[sampled.length - 1][0], y0], [sampled[0][0], y0]])) + 'Z', fill: rampColor(cfg.legendT(cfg.padj[i]))});
    
    
    const line = [[xs(cfg.lineMin), y0]].concat(sampled, [[xs(cfg.lineMax), y0]]);
    const stroke = make('path', g, {d: pathOf(line), fill: 'none', stroke: '#111', 'stroke-width': 4, 'stroke-linejoin': 'round'});
    
    
    const tick = make('line', g, {x1: cfg.box[0] - 7, x2: cfg.box[0], y1: y0, y2: y0, stroke: '#555', 'stroke-width': 2});
    
    
  });
  const frame = make('rect', g, {x: cfg.box[0], y: cfg.box[1], width: cfg.box[2] - cfg.box[0], height: cfg.box[3] - cfg.box[1], fill: 'none', stroke: '#808080', 'stroke-width': 2.4});
  
  
  cfg.xTicks.forEach(v => {
    const l = make('line', g, {x1: xs(v), x2: xs(v), y1: cfg.box[3], y2: cfg.box[3] + 8, stroke: '#333', 'stroke-width': 2});
    
    
    const t = make('text', g, {x: xs(v), y: cfg.box[3] + 36, 'text-anchor': 'middle', 'font-size': 42, class: 'b'});
    t.textContent = String(v).replace('-', '−');
    
    
  });
  // colour legend
  const bar = make('rect', g, {x: cfg.legend.x, y: cfg.legend.top, width: cfg.legend.w, height: cfg.legend.bottom - cfg.legend.top, fill: 'url(#padjGrad)'});
  
  
  cfg.legendTicks.forEach((v, i) => {
    const y = cfg.legendY(v);
    [[cfg.legend.x, cfg.legend.x + 11], [cfg.legend.x + cfg.legend.w - 11, cfg.legend.x + cfg.legend.w]].forEach(seg => {
      const l = make('line', g, {x1: seg[0], x2: seg[1], y1: y, y2: y, stroke: '#fff', 'stroke-opacity': .75, 'stroke-width': 1.6});
      
      
    });
    const t = make('text', g, {x: cfg.legend.labelX, y: y + 1, 'font-size': 31, class: 'b'});
    
    
    cfg.legendText(t, i);
  });
}
const dLegendY = linear(2e-4, 8e-4, 1439, 1635);
drawRidges('panelD', 'd', {
  xs: linear(0, 8, 652, 1292), base0: 1057, rowStep: 49.73, box: [574, 983, 1306, 2030],
  categories: dCategories, padj: dPadjust, rx: dRidgeX, rh: dRidgeH, grid: dGrid, xTicks: dXTicks,
  lineMin: -0.58, lineMax: 7.79,
  legend: {x: 1342, w: 54, top: 1399, bottom: 1661, labelX: 1413},
  legendTicks: dLegendTicks, legendY: dLegendY,
  legendT: v => (dLegendY(v) - 1399) / (1661 - 1399),
  legendText: (t, i) => {
    t.textContent = dLegendMantissa[i] + '×10';
    const s = make('tspan', t, {'font-size': 18, dy: -9});
    s.textContent = '−4';
  }
});
const eLegendY = linear(0.01, 0.04, 1422, 1624);
drawRidges('panelE', 'e', {
  xs: linear(0, 3, 2473.5, 2691), base0: 1089, rowStep: 53.65, box: [2049, 983, 2758, 2033],
  categories: eCategories, padj: ePadjust, rx: eRidgeX, rh: eRidgeH, grid: eGrid, xTicks: eXTicks,
  lineMin: -5.45, lineMax: 3.5,
  legend: {x: 2794, w: 51, top: 1378, bottom: 1640, labelX: 2862},
  legendTicks: eLegendTicks, legendY: eLegendY,
  legendT: v => (eLegendY(v) - 1378) / (1640 - 1378),
  legendText: (t, i) => { t.textContent = eLegendLabels[i]; }
});
</script>
</body>
</html>
